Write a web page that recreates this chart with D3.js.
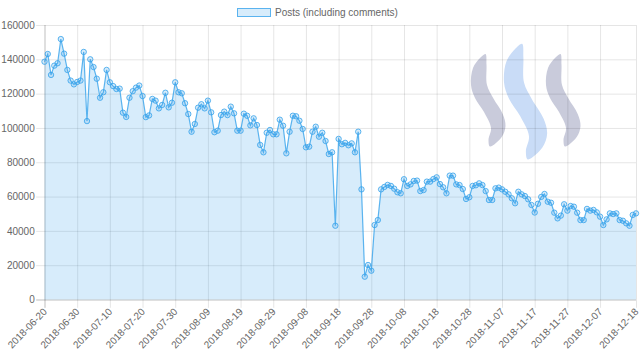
<!DOCTYPE html>
<html>
<head>
<meta charset="utf-8">
<script src="https://cdn.jsdelivr.net/npm/d3@7"></script>
<style>
  html, body { margin: 0; padding: 0; background: #fff; }
  svg { display: block; font-family: "Liberation Sans", Arial, Helvetica, sans-serif; }
</style>
</head>
<body>
<div id="chart"></div>
<script>
// daily values, 2018-06-20 .. 2018-12-18
const firstDay = "2018-06-20";
const lastDay = "2018-12-18";
const seriesName = "Posts (including comments)";

const posts = [
    138600, 143100, 130900, 136300, 137700, 151800, 143300, 133800, 127600, 125400,
    126800, 127600, 144300, 104000, 140000, 135500, 128700, 117600, 120800, 133800,
    126600, 124400, 122700, 122900, 108900, 106400, 117600, 121400, 123500, 124700,
    118600, 106300, 107300, 116900, 115900, 111400, 113400, 120500, 112000, 114700,
    126600, 120800, 120200, 114400, 108100, 97800, 102300, 111800, 113800, 111400,
    115900, 109100, 97500, 98400, 107500, 109500, 107500, 112400, 108500, 98400,
    98400, 108300, 107100, 101500, 105600, 101700, 90100, 85800, 97200, 98800,
    96300, 96300, 104800, 101300, 85200, 97800, 107100, 106800, 104200, 99400,
    88700, 89100, 97800, 100700, 94900, 97200, 92400, 84800, 85800, 43000,
    93600, 90500, 91300, 89900, 91000, 85800, 97800, 64200, 13300, 20100,
    16800, 43400, 46300, 64200, 65600, 66800, 66200, 64600, 62500, 61900,
    70100, 66200, 67100, 69100, 69300, 63200, 63800, 68700, 68700, 70200,
    71200, 67300, 65400, 61900, 72200, 72200, 67100, 66700, 64400, 58600,
    59600, 66200, 66600, 67700, 66700, 63200, 58000, 58000, 64800, 65200,
    64200, 62800, 61300, 59000, 56100, 62800, 61300, 60300, 58400, 55100,
    50700, 55800, 59800, 61500, 57000, 56400, 50600, 47300, 48900, 55500,
    51800, 54500, 54100, 50600, 46300, 46300, 52800, 51800, 52200, 50800,
    48300, 43400, 46700, 50200, 49800, 50200, 46300, 45900, 44400, 43000,
    49300, 50200
];

const yTicks = [0, 20000, 40000, 60000, 80000, 100000, 120000, 140000, 160000];

const xTickLabels = [
    "2018-06-20", "2018-06-30", "2018-07-10", "2018-07-20", "2018-07-30",
    "2018-08-09", "2018-08-19", "2018-08-29", "2018-09-08", "2018-09-18",
    "2018-09-28", "2018-10-08", "2018-10-18", "2018-10-28", "2018-11-07",
    "2018-11-17", "2018-11-27", "2018-12-07", "2018-12-18"
];

const width = 640, height = 361;
const plot = { left: 44.5, right: 636, top: 25, bottom: 299.5 };
const tickLen = 8.3;
const blue = "rgba(54,162,235,0.8)";
const blueFill = "rgba(54,162,235,0.2)";
const grid = "rgba(0,0,0,0.1)";
const zeroGrid = "rgba(0,0,0,0.25)";

const parse = d3.timeParse("%Y-%m-%d");
const fmt = d3.timeFormat("%Y-%m-%d");
const days = d3.timeDay.range(parse(firstDay), d3.timeDay.offset(parse(lastDay), 1)).map(fmt);
const data = days.map((d, i) => ({ day: d, value: posts[i] }));

const x = d3.scalePoint().domain(days).range([plot.left, plot.right]);
const y = d3.scaleLinear().domain([0, 160000]).range([plot.bottom, plot.top]);

const svg = d3.select("#chart").append("svg")
    .attr("width", width)
    .attr("height", height)
    .attr("viewBox", `0 0 ${width} ${height}`);

// steem logo watermark behind the grid
const swoosh = [
    [0.5, -1], [1.5, 10], [2, 30], [8.3, 43.3], [17.7, 59], [20.5, 71], [16.7, 82], [5, 91.5],
    [3.5, 85], [6, 73], [-1, 57], [-10, 43], [-14, 30], [-12, 13], [-5, 3]
];
const swooshLine = d3.line().curve(d3.curveCatmullRomClosed);
const logo = svg.append("g").attr("class", "logo");
[
    { tx: 485, ty: 55, s: 1, color: "#c9cbdb" },
    { tx: 521.5, ty: 45, s: 1.25, color: "#c9dcf7" },
    { tx: 560, ty: 55, s: 1, color: "#c9cbdb" }
].forEach(l => {
    logo.append("path")
        .attr("d", swooshLine(swoosh))
        .attr("transform", `translate(${l.tx},${l.ty}) scale(${l.s})`)
        .attr("fill", l.color);
});

// y axis + horizontal grid
const yAxis = svg.append("g")
    .attr("transform", `translate(${plot.left},0)`)
    .call(d3.axisLeft(y).tickValues(yTicks).tickSize(tickLen).tickPadding(1.5).tickFormat(d3.format("d")));
yAxis.select(".domain").remove();
yAxis.selectAll(".tick line")
    .attr("x1", plot.right - plot.left)
    .attr("x2", -tickLen)
    .attr("stroke", d => d === 0 ? zeroGrid : grid);
yAxis.selectAll(".tick text")
    .attr("fill", "#666")
    .style("font-size", "10px");

// x axis + vertical grid
const xAxis = svg.append("g")
    .attr("transform", `translate(0,${plot.bottom})`)
    .call(d3.axisBottom(x).tickValues(xTickLabels).tickSize(tickLen));
xAxis.select(".domain").remove();
xAxis.selectAll(".tick line")
    .attr("y1", -(plot.bottom - plot.top))
    .attr("y2", tickLen)
    .attr("stroke", (d, i) => i === 0 ? zeroGrid : grid);
xAxis.selectAll(".tick text")
    .attr("x", 0)
    .attr("y", 0)
    .attr("dy", "0.35em")
    .attr("text-anchor", "end")
    .attr("transform", `translate(0,${tickLen + 2}) rotate(-46)`)
    .attr("fill", "#666")
    .style("font-size", "10px");

// series
const area = d3.area()
    .x(d => x(d.day))
    .y0(y(0))
    .y1(d => y(d.value));

const line = d3.line()
    .x(d => x(d.day))
    .y(d => y(d.value));

svg.append("path")
    .datum(data)
    .attr("fill", blueFill)
    .attr("d", area);

svg.append("path")
    .datum(data)
    .attr("fill", "none")
    .attr("stroke", blue)
    .attr("stroke-width", 1.2)
    .attr("d", line);

svg.append("g")
    .selectAll("circle")
    .data(data)
    .join("circle")
    .attr("cx", d => x(d.day))
    .attr("cy", d => y(d.value))
    .attr("r", 2.7)
    .attr("fill", blueFill)
    .attr("stroke", blue)
    .attr("stroke-width", 1);

// legend
const legend = svg.append("g").attr("transform", "translate(237.5,8.5)");
legend.append("rect")
    .attr("width", 33)
    .attr("height", 8)
    .attr("fill", blueFill)
    .attr("stroke", blue)
    .attr("stroke-width", 1);
legend.append("text")
    .attr("x", 37.5)
    .attr("y", 4)
    .attr("dy", "0.35em")
    .attr("fill", "#666")
    .style("font-size", "10px")
    .text(seriesName);
</script>
</body>
</html>
